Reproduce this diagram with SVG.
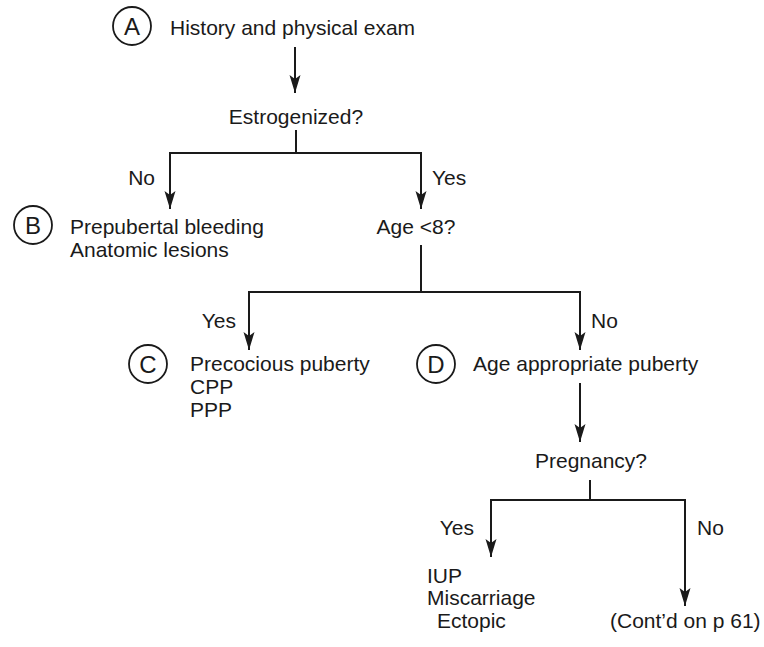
<svg xmlns="http://www.w3.org/2000/svg" width="764" height="647" viewBox="0 0 764 647">
  <style>
    text { font-family: "Liberation Sans", Arial, sans-serif; font-size: 21px; fill: #1a1a1a; }
    .mid { text-anchor: middle; }
    .lbl { font-size: 24px; }
    circle.tag { fill: none; stroke: #1a1a1a; stroke-width: 1.8; }
    .wire { fill: none; stroke: #1a1a1a; stroke-width: 2; }
  </style>
  <defs>
    <marker id="arrow" viewBox="0 0 18 12" refX="18" refY="6" markerWidth="18" markerHeight="12" markerUnits="userSpaceOnUse" orient="auto">
      <path d="M0,0.5 L18,6 L0,11.5 L4,6 Z" fill="#1a1a1a"/>
    </marker>
  </defs>
  <rect width="764" height="647" fill="#ffffff"/>

  <g id="connectors">
    <path class="wire" d="M295,47 V93" marker-end="url(#arrow)"/>
    <path class="wire" d="M296,130 V153"/>
    <path class="wire" d="M170,209 V153 H421 V209"/>
    <path class="wire" d="M170,180 V209" marker-end="url(#arrow)"/>
    <path class="wire" d="M421,180 V209" marker-end="url(#arrow)"/>
    <path class="wire" d="M421,245 V292"/>
    <path class="wire" d="M249,350 V292 H580 V350"/>
    <path class="wire" d="M249,320 V350" marker-end="url(#arrow)"/>
    <path class="wire" d="M580,320 V350" marker-end="url(#arrow)"/>
    <path class="wire" d="M580,383 V442" marker-end="url(#arrow)"/>
    <path class="wire" d="M590,480 V500"/>
    <path class="wire" d="M491,557 V500 H685 V606"/>
    <path class="wire" d="M491,530 V557" marker-end="url(#arrow)"/>
    <path class="wire" d="M685,570 V606" marker-end="url(#arrow)"/>
    <text x="155" y="185" text-anchor="end">No</text>
    <text x="432" y="185">Yes</text>
    <text x="236" y="328" text-anchor="end">Yes</text>
    <text x="591" y="328">No</text>
    <text x="474" y="535" text-anchor="end">Yes</text>
    <text x="697" y="535">No</text>
  </g>

  <g id="node-a">
    <circle class="tag" cx="132" cy="26" r="19"/>
    <text class="mid lbl" x="132" y="35">A</text>
    <text x="170" y="35">History and physical exam</text>
  </g>

  <g id="node-estrogenized">
    <text class="mid" x="296" y="124">Estrogenized?</text>
  </g>

  <g id="node-b">
    <circle class="tag" cx="33" cy="225" r="19"/>
    <text class="mid lbl" x="33" y="234">B</text>
    <text x="70" y="234">Prepubertal bleeding</text>
    <text x="70" y="257">Anatomic lesions</text>
  </g>

  <g id="node-age">
    <text class="mid" x="416" y="234">Age &lt;8?</text>
  </g>

  <g id="node-c">
    <circle class="tag" cx="148" cy="364" r="19"/>
    <text class="mid lbl" x="148" y="373">C</text>
    <text x="190" y="371">Precocious puberty</text>
    <text x="190" y="394">CPP</text>
    <text x="190" y="417">PPP</text>
  </g>

  <g id="node-d">
    <circle class="tag" cx="436" cy="364" r="19"/>
    <text class="mid lbl" x="436" y="373">D</text>
    <text x="473" y="371">Age appropriate puberty</text>
  </g>

  <g id="node-pregnancy">
    <text class="mid" x="591" y="468">Pregnancy?</text>
  </g>

  <g id="node-pregnancy-yes">
    <text x="427" y="583">IUP</text>
    <text x="427" y="605">Miscarriage</text>
    <text x="437" y="628">Ectopic</text>
  </g>

  <g id="node-pregnancy-no">
    <text x="610" y="628">(Cont’d on p 61)</text>
  </g>
</svg>
